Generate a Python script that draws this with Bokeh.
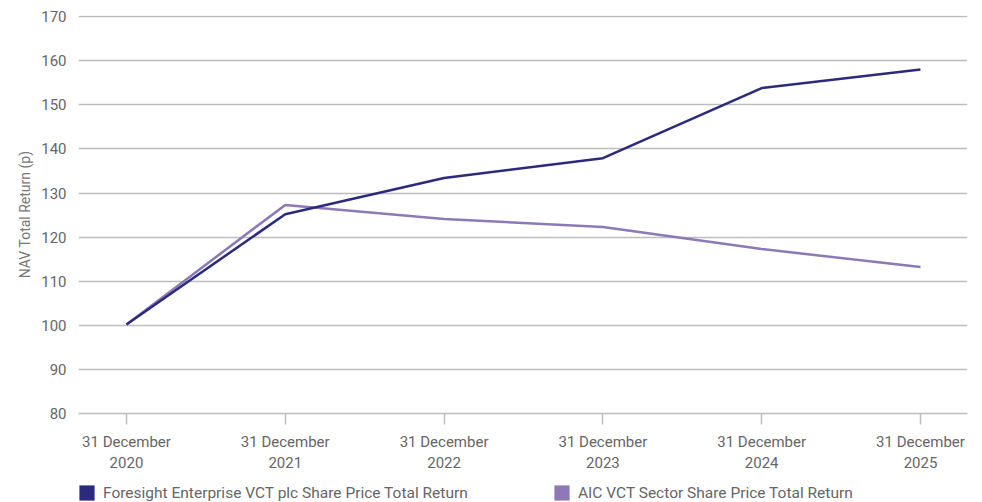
import numpy as np
from bokeh.plotting import figure
from bokeh.layouts import column
from bokeh.models import Range1d, FixedTicker, Legend, LegendItem, ColumnDataSource
from bokeh.embed import file_html
from bokeh.resources import INLINE

years = ["2020", "2021", "2022", "2023", "2024", "2025"]
tick_labels = ["31 December\n" + y for y in years]
foresight = [100.2, 125.2, 133.4, 137.9, 153.8, 158.0]
aic = [100.2, 127.3, 124.1, 122.3, 117.3, 113.2]
y_ticks = [80, 90, 100, 110, 120, 130, 140, 150, 160, 170]
series_names = ["Foresight Enterprise VCT plc Share Price Total Return",
                "AIC VCT Sector Share Price Total Return"]

x = list(range(len(years)))
FONT = "Roboto"
TXT = "#666666"
GRID = "#bdbdbd"
NAVY = "#2b2a7e"
PURPLE = "#8d78b8"

p = figure(width=974, height=484, output_backend="svg", toolbar_location=None,
           x_range=Range1d(-0.302, 5.296), y_range=Range1d(80, 170.25),
           min_border_left=78, min_border_right=7, min_border_top=15, min_border_bottom=71)
p.outline_line_color = None
p.background_fill_color = "white"

p.line(x, aic, line_color=PURPLE, line_width=2.5)
p.line(x, foresight, line_color=NAVY, line_width=2.5)

# x axis
p.xaxis.ticker = FixedTicker(ticks=x)
p.xaxis.major_label_overrides = {i: lab for i, lab in zip(x, tick_labels)}
p.xaxis.axis_line_color = GRID
p.xaxis.axis_line_width = 1.5
p.xaxis.major_tick_line_color = GRID
p.xaxis.major_tick_line_width = 1.5
p.xaxis.major_tick_out = 11
p.xaxis.major_tick_in = 0
p.xaxis.minor_tick_line_color = None
p.xaxis.major_label_standoff = 8
p.xaxis.major_label_text_font = FONT
p.xaxis.major_label_text_font_size = "15px"
p.xaxis.major_label_text_color = TXT
p.xaxis.major_label_text_line_height = 1.2

# y axis
p.yaxis.ticker = FixedTicker(ticks=y_ticks)
p.yaxis.axis_line_color = None
p.yaxis.major_tick_line_color = None
p.yaxis.minor_tick_line_color = None
p.yaxis.major_label_standoff = 6
p.yaxis.major_label_text_font = FONT
p.yaxis.major_label_text_font_size = "15px"
p.yaxis.major_label_text_color = TXT
p.yaxis.axis_label = "NAV Total Return (p)"
p.yaxis.axis_label_text_font = FONT
p.yaxis.axis_label_text_font_size = "14px"
p.yaxis.axis_label_text_font_style = "normal"
p.yaxis.axis_label_text_color = "#777777"
p.yaxis.axis_label_standoff = 5

p.xgrid.grid_line_color = None
p.ygrid.grid_line_color = GRID
p.ygrid.grid_line_width = 1.5

# legend strip (placeholder glyphs are NaN so only their legend swatches show)
lg = figure(width=974, height=18, output_backend="svg", toolbar_location=None,
            x_range=Range1d(0, 1), y_range=Range1d(0, 1), min_border=0,
            x_axis_location=None, y_axis_location=None)
lg.outline_line_color = None
lg.grid.grid_line_color = None
nan = np.array([np.nan])
swatch = ColumnDataSource(dict(l=nan, r=nan, t=nan, b=nan))
r1 = lg.quad(left="l", right="r", top="t", bottom="b", source=swatch, fill_color=NAVY, line_color=None)
r2 = lg.quad(left="l", right="r", top="t", bottom="b", source=swatch, fill_color=PURPLE, line_color=None)
legend = Legend(items=[LegendItem(label=series_names[0], renderers=[r1]),
                       LegendItem(label=series_names[1], renderers=[r2])],
                orientation="horizontal", location=(-1, 0), margin=0, padding=0,
                spacing=83, glyph_width=19, glyph_height=19, label_standoff=7, label_width=366,
                border_line_color=None, background_fill_alpha=0,
                label_text_font=FONT, label_text_font_size="15.5px", label_text_color=TXT)
lg.add_layout(legend, "center")

layout = column(p, lg, spacing=0)
open("out.html", "w").write(file_html(layout, INLINE))
